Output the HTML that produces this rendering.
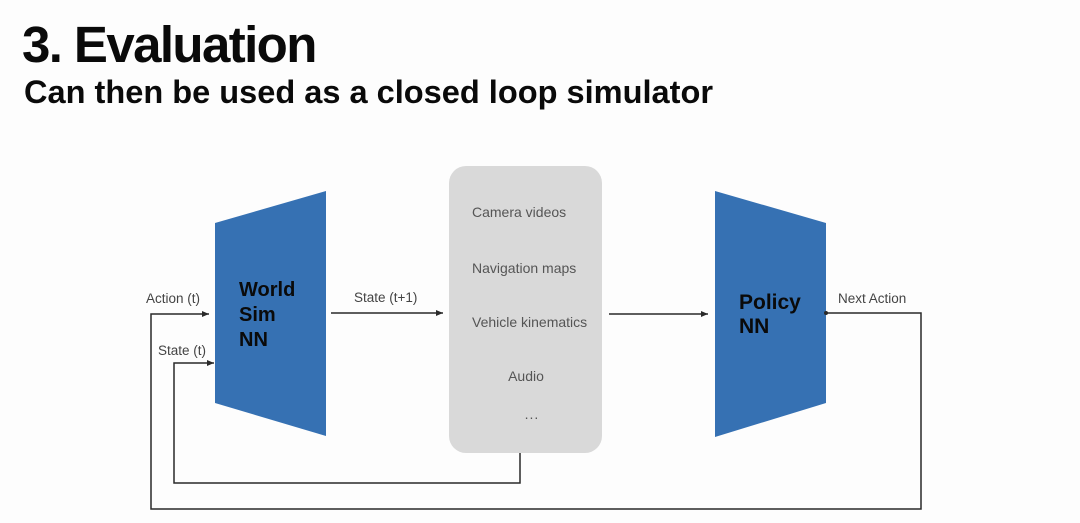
<!DOCTYPE html>
<html>
<head>
<meta charset="utf-8">
<style>
  html, body { margin: 0; padding: 0; }
  body { width: 1080px; height: 523px; background: #fdfdfd; overflow: hidden; position: relative; }
  svg { position: absolute; left: 0; top: 0; }
</style>
</head>
<body>
<svg width="1080" height="523" viewBox="0 0 1080 523" xmlns="http://www.w3.org/2000/svg">
  <defs>
    <marker id="ah" markerWidth="8" markerHeight="8" refX="7" refY="4" orient="auto" markerUnits="userSpaceOnUse">
      <path d="M0,1 L7,4 L0,7 Z" fill="#2a2a2a"/>
    </marker>
  </defs>
  <rect width="1080" height="523" fill="#fdfdfd"/>

  <!-- Title -->
  <text x="22" y="62" font-family="Liberation Sans, Arial, sans-serif" font-weight="bold" font-size="51" letter-spacing="-1.6" fill="#0a0a0a">3. Evaluation</text>
  <text x="24" y="103" font-family="Liberation Sans, Arial, sans-serif" font-weight="bold" font-size="32" fill="#0a0a0a" textLength="689" lengthAdjust="spacingAndGlyphs">Can then be used as a closed loop simulator</text>

  <!-- World Sim NN trapezoid -->
  <polygon points="215,223 326,191 326,436 215,403" fill="#3671b3"/>
  <text font-family="Liberation Sans, Arial, sans-serif" font-weight="bold" font-size="20" fill="#0a0a0a">
    <tspan x="239" y="296">World</tspan>
    <tspan x="239" y="321">Sim</tspan>
    <tspan x="239" y="346">NN</tspan>
  </text>

  <!-- Policy NN trapezoid -->
  <polygon points="715,191 826,223 826,403 715,437" fill="#3671b3"/>
  <text font-family="Liberation Sans, Arial, sans-serif" font-weight="bold" font-size="21" fill="#0a0a0a">
    <tspan x="739" y="309">Policy</tspan>
    <tspan x="739" y="333">NN</tspan>
  </text>

  <!-- Gray box -->
  <rect x="449" y="166" width="153" height="287" rx="17" ry="17" fill="#d9d9d9"/>
  <g font-family="Liberation Sans, Arial, sans-serif" font-size="14" fill="#555">
    <text x="472" y="217">Camera videos</text>
    <text x="472" y="273">Navigation maps</text>
    <text x="472" y="327">Vehicle kinematics</text>
    <text x="526" y="381" text-anchor="middle">Audio</text>
    <text x="532" y="419" text-anchor="middle" font-size="14" letter-spacing="1">...</text>
  </g>

  <!-- Connectors -->
  <g stroke="#2a2a2a" stroke-width="1.5" fill="none">
    <line x1="331" y1="313" x2="443" y2="313" marker-end="url(#ah)"/>
    <line x1="609" y1="314" x2="708" y2="314" marker-end="url(#ah)"/>
    <polyline points="826,313 921,313 921,509 151,509 151,314 209,314" marker-end="url(#ah)"/>
    <polyline points="520,453 520,483 174,483 174,363 214,363" marker-end="url(#ah)"/>
  </g>
  <circle cx="826" cy="313" r="2" fill="#2a2a2a"/>

  <!-- Connector labels -->
  <g font-family="Liberation Sans, Arial, sans-serif" font-size="13.5" fill="#444">
    <text x="146" y="303">Action (t)</text>
    <text x="158" y="355">State (t)</text>
    <text x="354" y="302">State (t+1)</text>
    <text x="838" y="303">Next Action</text>
  </g>
</svg>
</body>
</html>
